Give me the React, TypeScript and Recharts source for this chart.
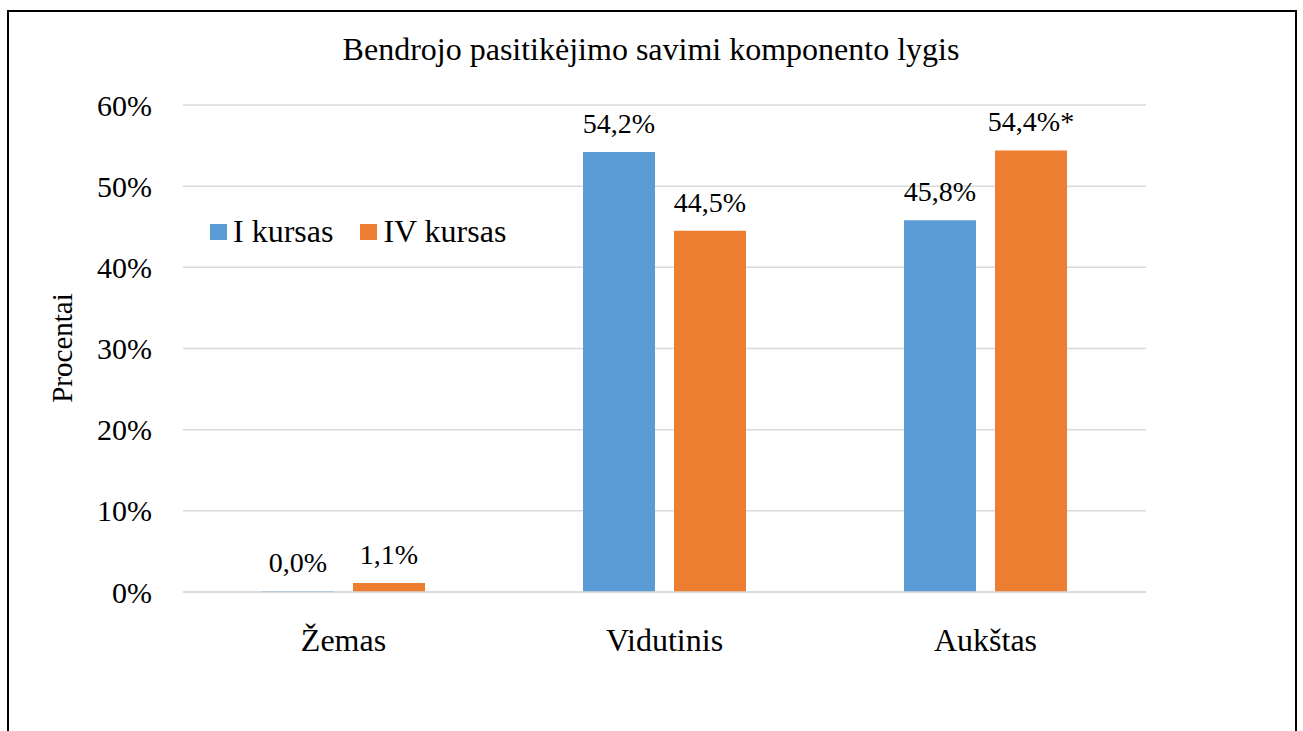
import { Bar, BarChart, CartesianGrid, LabelList, Legend, XAxis, YAxis } from "recharts";

// chart values
const categories = ["Žemas", "Vidutinis", "Aukštas"];
const firstYear = [0.0, 54.2, 45.8];
const fourthYear = [1.1, 44.5, 54.4];
const fourthYearMarks = ["", "", "*"];
const yTicks = [0, 10, 20, 30, 40, 50, 60];

const FONT = "Liberation Serif, Times New Roman, serif";

const fmt = (v: number) => v.toFixed(1).replace(".", ",") + "%";

const chartData = categories.map((name, i) => ({
  name,
  first: firstYear[i],
  fourth: fourthYear[i],
  firstLabel: fmt(firstYear[i]),
  fourthLabel: fmt(fourthYear[i]) + fourthYearMarks[i],
}));

function LegendBox(props: any) {
  const items = props.payload || [];
  return (
    <div style={{ display: "flex", alignItems: "center", height: 31, fontFamily: FONT, fontSize: 32, color: "#000" }}>
      {items.map((item: any, i: number) => (
        <div key={i} style={{ display: "flex", alignItems: "center", marginRight: 27 }}>
          <span style={{ display: "inline-block", width: 17, height: 16, background: item.color, marginRight: 6 }} />
          <span style={{ whiteSpace: "nowrap", lineHeight: "31px" }}>{item.value}</span>
        </div>
      ))}
    </div>
  );
}

export default function App() {
  const labelStyle = { fill: "#000", fontSize: 28, fontFamily: FONT };
  return (
    <div
      style={{
        position: "absolute", left: 0, top: 0, width: 1303, height: 731, overflow: "hidden",
        background: "#fff", fontFamily: FONT,
      }}
    >
      {/* frame around the figure, bottom edge falls outside the picture */}
      <div style={{ position: "absolute", left: 7, top: 10, width: 1286, height: 800, border: "2.5px solid #000" }} />
      <div
        style={{
          position: "absolute", left: 0, top: 34, width: 1302, textAlign: "center",
          fontSize: 32, lineHeight: "31px", color: "#000",
        }}
      >
        Bendrojo pasitikėjimo savimi komponento lygis
      </div>
      <div
        style={{
          position: "absolute", left: 62, top: 348, transform: "translate(-50%, -50%) rotate(-90deg)",
          fontSize: 29, lineHeight: "31px", whiteSpace: "nowrap", color: "#000",
        }}
      >
        Procentai
      </div>
      <BarChart
        width={1303}
        height={731}
        data={chartData}
        margin={{ top: 105, right: 157, left: 83, bottom: 109 }}
        barSize={72}
        barGap={19}
        style={{ position: "absolute", left: 0, top: 0, fontFamily: FONT }}
      >
        <CartesianGrid vertical={false} stroke="#d9d9d9" strokeWidth={1.5} />
        <XAxis
          dataKey="name"
          axisLine={{ stroke: "#d9d9d9", strokeWidth: 1.5 }}
          tickLine={false}
          tickSize={0}
          tickMargin={36}
          height={30}
          tick={{ fill: "#000", fontSize: 32, fontFamily: FONT }}
        />
        <YAxis
          width={100}
          domain={[0, 60]}
          ticks={yTicks}
          axisLine={false}
          tickLine={false}
          tickSize={0}
          tickMargin={31}
          tick={{ fill: "#000", fontSize: 30, fontFamily: FONT }}
          tickFormatter={(v: number) => `${v}%`}
        />
        <Legend
          content={<LegendBox />}
          layout="horizontal"
          verticalAlign="middle"
          align="center"
          wrapperStyle={{ position: "absolute", left: 210, top: 216, width: 400 }}
        />
        <Bar dataKey="first" name="I kursas" fill="#5b9bd5" minPointSize={1} isAnimationActive={false}>
          <LabelList dataKey="firstLabel" position="top" offset={19} {...labelStyle} />
        </Bar>
        <Bar dataKey="fourth" name="IV kursas" fill="#ed7d31" isAnimationActive={false}>
          <LabelList dataKey="fourthLabel" position="top" offset={19} {...labelStyle} />
        </Bar>
      </BarChart>
    </div>
  );
}
